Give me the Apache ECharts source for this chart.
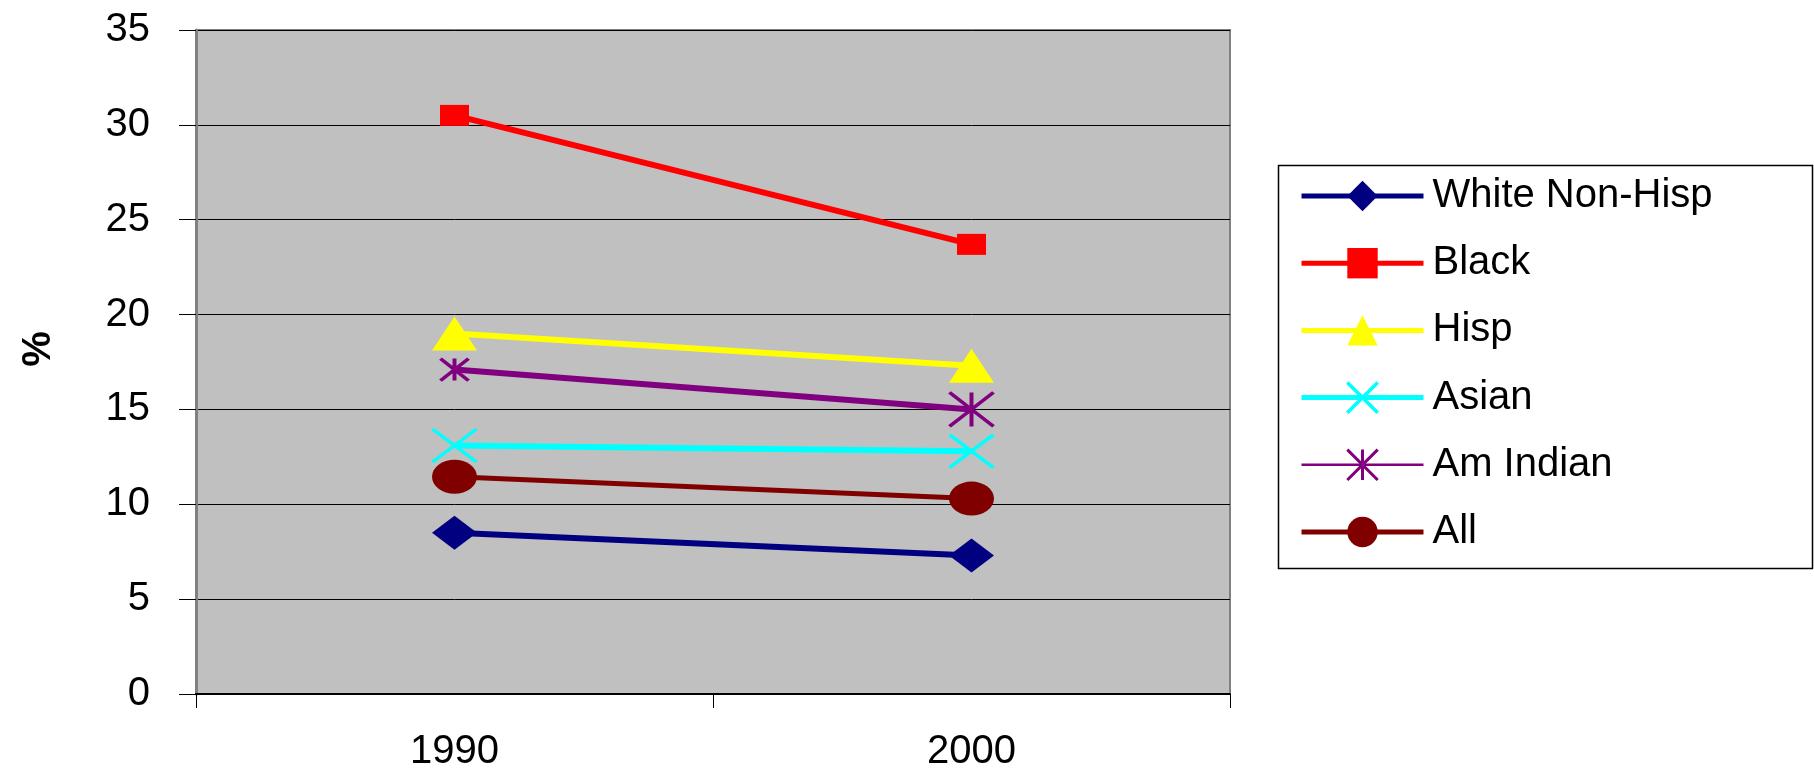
<!DOCTYPE html>
<html>
<head>
<meta charset="utf-8">
<script src="https://cdn.jsdelivr.net/npm/echarts@6/dist/echarts.min.js"></script>
<style>html,body{margin:0;padding:0;background:#fff;}#chart{width:1814px;height:771px;}</style>
</head>
<body>
<div id="chart"></div>
<script>
const categories = ['1990', '2000'];
const seriesNames = ['White Non-Hisp', 'Black', 'Hisp', 'Asian', 'Am Indian', 'All'];
const whiteNonHisp = [8.5, 7.3];
const black = [30.5, 23.7];
const hisp = [19.0, 17.3];
const asian = [13.1, 12.8];
const amIndian = [17.1, 15.0];
const all = [11.45, 10.3];
const yTicks = [0, 5, 10, 15, 20, 25, 30, 35];

const FONT = 'Liberation Sans';
const X_PATH = 'path://M0,0 L10,10 M10,0 L0,10';
const STAR_PATH = 'path://M0,0 L10,10 M10,0 L0,10 M5,0 L5,10';

function mk(name, data, color, symbol, size, extra) {
  return Object.assign({
    name: name,
    type: 'line',
    data: data,
    symbol: symbol,
    symbolSize: size,
    color: color,
    lineStyle: { color: color, width: 6 },
    itemStyle: { color: color },
    z: 3
  }, extra || {});
}

const legendLineWidth = { 'Am Indian': 2.5 };
const legendBorder = { 'Asian': 3.5, 'Am Indian': 3 };

const chart = echarts.init(document.getElementById('chart'), null, { renderer: 'canvas' });
chart.setOption({
  animation: false,
  backgroundColor: '#ffffff',
  grid: {
    left: 196, right: 584, top: 30, bottom: 77,
    outerBoundsMode: 'none',
    containLabel: false,
    show: true, backgroundColor: '#C0C0C0', borderColor: '#808080', borderWidth: 2
  },
  graphic: [{
    type: 'rect', left: 1276, top: 163, shape: { width: 534, height: 403 },
    style: { fill: 'none', stroke: '#000', lineWidth: 1.5 }, z: 0
  }],
  legend: {
    orient: 'vertical',
    left: 1294, top: 171,
    itemWidth: 122, itemHeight: 38, itemGap: 27.2,
    textStyle: { fontFamily: FONT, fontSize: 40, lineHeight: 40, color: '#000', padding: [0, 0, 0, 4] },
    data: seriesNames.map(function (n) {
      const d = { name: n, lineStyle: { width: legendLineWidth[n] || 5 } };
      if (legendBorder[n]) d.itemStyle = { borderWidth: legendBorder[n] };
      return d;
    })
  },
  xAxis: {
    type: 'category',
    data: categories,
    boundaryGap: true,
    axisLine: { show: true, lineStyle: { color: '#000', width: 2 } },
    axisTick: { show: true, length: 14, lineStyle: { color: '#000', width: 1 } },
    axisLabel: { fontFamily: FONT, fontSize: 40, color: '#000', margin: 38 },
    splitLine: { show: false }
  },
  yAxis: {
    type: 'value',
    min: 0, max: 35, interval: 5,
    name: '%',
    nameLocation: 'middle',
    nameRotate: 90,
    nameGap: 137,
    nameTextStyle: { fontFamily: FONT, fontSize: 40, fontWeight: 'bold', color: '#000', padding: [0, 0, 0, 26] },
    axisLine: { show: true, lineStyle: { color: '#808080', width: 3 } },
    axisTick: { show: true, length: 17, lineStyle: { color: '#000', width: 1 } },
    axisLabel: {
      fontFamily: FONT, fontSize: 40, color: '#000', margin: 46,
      formatter: function (v) { return yTicks.indexOf(v) >= 0 ? String(v) : ''; }
    },
    splitLine: { show: true, lineStyle: { color: '#000', width: 1 } }
  },
  series: [
    mk('White Non-Hisp', whiteNonHisp, '#000080', 'diamond', [45, 34]),
    mk('Black', black, '#FF0000', 'rect', [29, 21]),
    mk('Hisp', hisp, '#FFFF00', 'triangle', [45, 34]),
    mk('Asian', asian, '#00FFFF', X_PATH, [44, 33], {
      itemStyle: { color: '#00FFFF', borderColor: '#00FFFF', borderWidth: 3.5 }
    }),
    mk('Am Indian', amIndian, '#800080', STAR_PATH, function (v, p) {
      return p.dataIndex === 0 ? [28, 22] : [44, 34];
    }, {
      itemStyle: { color: '#800080', borderColor: '#800080', borderWidth: 3.5 }
    }),
    mk('All', all, '#800000', 'circle', [45, 34], { lineStyle: { color: '#800000', width: 5 } })
  ]
});
</script>
</body>
</html>
